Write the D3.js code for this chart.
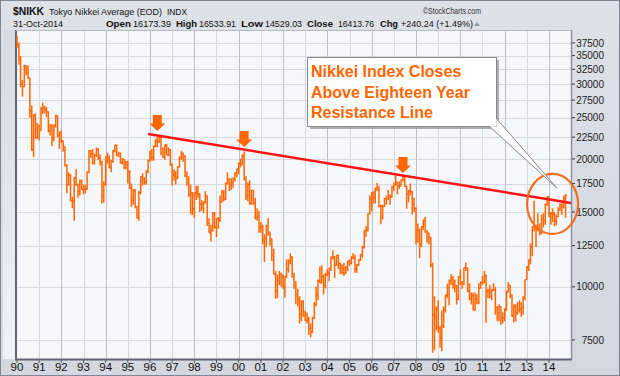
<!DOCTYPE html>
<html>
<head>
<meta charset="utf-8">
<script src="https://cdnjs.cloudflare.com/ajax/libs/d3/7.8.5/d3.min.js"></script>
<style>
  body { margin: 0; background: #d9dde5; }
  svg { display: block; font-family: "Liberation Sans", Arial, sans-serif; }
</style>
</head>
<body>
<div id="chart"></div>
<script>
// Monthly OHLC for $NIKK, Jan 1990 - Oct 2014 (one row per year)
const startYear = 1990;

const opens = [
  38921,37189,34592,29980,29585,33131,31940,31036,25978,20984,25194,22455,
  23849,23293,26409,26292,26111,25790,23291,23900,22335,23916,25222,22687,
  22984,22023,21339,19346,17391,18348,15952,15910,18061,17399,16767,17684,
  16925,17024,16953,18591,20919,20552,19590,20380,21027,20106,19703,16408,
  17417,20229,19997,19112,19725,20974,21552,20449,20629,19564,19990,19076,
  19723,18650,17053,16140,16807,15437,14517,16678,18117,17913,17655,18744,
  19868,20813,20125,21407,22041,21956,22531,20693,20167,21556,20467,21020,
  19361,18330,18557,18003,19151,20068,20605,20331,18229,17888,16459,16636,
  15259,16628,16832,16527,15641,15671,15830,16379,14108,13406,13565,14883,
  13842,14499,14368,15837,16702,16112,17530,17862,17437,17605,17943,18558,
  18934,19540,19960,20337,17974,16332,17411,15727,16861,15747,14540,14649,
  13786,13844,12884,13000,13934,13262,12969,11861,10714,9775,10367,10697,
  10543,9998,10588,11025,11493,11764,10622,10019,9620,9383,8641,9216,
  8579,8340,8363,7973,7831,8425,9083,9563,10344,10219,10560,10101,
  10677,10784,11042,11715,11762,11236,11859,11326,11082,10824,10771,11069,
  11489,11388,11741,11669,11009,11277,11584,11900,12414,13574,13607,14872,
  16111,16650,16205,17060,16906,15468,15505,15457,16141,16128,16399,16274,
  17226,17383,17604,17288,17400,17876,18138,17249,16569,16786,16738,15680,
  15308,13592,13603,12526,13850,14339,13481,13377,13073,11260,8577,8512,
  8860,7994,7568,8110,8828,9523,9958,10357,10493,10133,10035,9346,
  10546,10198,10126,11090,11057,9769,9383,9537,8824,9369,9202,9937,
  10229,10238,10624,9755,9850,9694,9816,9833,8955,8700,8988,8435,
  8455,8803,9723,10084,9521,8543,9007,8695,8840,8870,8928,9446,
  10395,11139,11559,12398,13861,13775,13677,13668,13389,14456,14328,15662,
  16291,14915,14841,14828,14304,14632,15162,15621,15425,16173
];

const highs = [
  38952,37600,34950,30700,33300,33200,33170,31100,26700,25500,25600,24300,
  24100,26500,27146,26700,26500,25900,24200,24100,24100,25400,25300,23200,
  23300,22100,21400,19400,18600,18400,16300,18100,18900,17500,17900,17900,
  17400,17400,18700,21000,21000,21100,20600,21281,21200,20500,19800,17700,
  20300,20700,20400,19900,21000,21573,21600,20800,20700,20100,20000,19800,
  19800,18800,17500,17000,17000,15500,16800,18200,18500,18100,18800,19900,
  20900,21100,21500,22300,22500,22750,22600,21300,21600,21700,21300,21100,
  19500,18900,18700,19200,20300,20910,20700,20400,18700,18200,17400,16700,
  16700,17300,17300,16600,16000,15900,16800,16400,14500,14000,15000,15000,
  14500,14600,16400,16900,16900,17600,18600,18000,18000,18100,18600,18950,
  19600,20000,20500,20833,18200,17600,17800,16900,16900,16200,15300,15100,
  14200,14000,13300,14000,14529,13500,13000,12300,10900,10700,10900,10800,
  10700,10600,11600,11600,11980,11800,10800,10300,9900,9500,9300,9300,
  8800,8700,8500,8200,8500,9200,10000,10400,11160,11238,10700,10800,
  11000,11100,11800,12195,11800,11900,11900,11400,11300,11400,11200,11500,
  11600,11800,12000,11900,11300,11600,11950,12500,13600,13900,14900,16400,
  16700,16800,17100,17563,17300,15600,15600,16200,16400,16900,16500,17300,
  17600,18300,17700,17700,17900,18300,18262,17300,16900,17500,16800,16200,
  15400,14100,13700,13900,14400,14600,13600,13400,13100,11400,9500,9000,
  9300,8100,8800,9000,9600,10170,10400,10700,10600,10400,10100,10600,
  10983,10300,11100,11400,11100,10200,9700,9700,9700,9600,10200,10300,
  10600,10900,10700,9900,10100,9900,10200,10000,9000,9100,9000,8700,
  8900,9800,10255,10100,9600,9100,9100,9200,9300,9200,9500,10400,
  11200,11600,12650,13900,15943,14000,14900,14100,14800,14900,15700,16320,
  16300,15000,15300,15000,14800,15400,15700,15800,16400,16534
];

const lows = [
  36450,33300,29500,28002,29500,31500,30900,25000,20900,20221,22300,22300,
  22100,23300,25500,25600,25100,23100,22700,21456,22000,23700,22500,21100,
  21800,20800,19200,16600,17300,15900,15300,14309,17300,16200,16400,16900,
  16500,16600,16900,18500,20100,19400,19400,20200,19900,19300,15700,15800,
  17300,19500,19000,18600,19600,20700,20300,20200,19500,19400,18900,18900,
  17500,17000,15400,15600,15300,14485,14300,16500,17300,17400,17400,18500,
  19700,19800,19800,21300,21300,21800,20400,20100,19900,20400,20300,19300,
  17303,17800,17400,17900,19100,19900,19700,18100,17300,16300,14800,14775,
  14500,16000,16200,15000,15100,14900,15700,13900,13400,12787,13500,13700,
  13100,13700,14200,15800,15900,16000,17400,16800,16900,17100,17700,18100,
  18400,19100,19300,17800,16000,15900,15600,15600,15600,14400,14300,13400,
  13400,12600,11433,12400,13200,12500,11500,10700,9382,9400,10100,10000,
  9900,9420,10500,10800,11300,10500,9900,9100,9000,8200,8300,8500,
  8300,8200,7700,7603,7800,8400,9000,9300,10200,10200,9600,9900,
  10600,10300,10900,11600,10500,11200,11000,10700,10700,10600,10700,10900,
  11200,11300,11600,10800,10800,11200,11500,11700,12300,13100,13500,14800,
  15059,15700,15700,16800,15400,14045,14400,15400,15600,16000,15600,16200,
  16800,17300,16500,17000,17200,17700,17200,15262,15800,16400,14800,15000,
  12573,12700,11691,12400,13600,13400,12700,12600,11100,6995,7100,7900,
  7800,7200,7055,8000,8700,9400,9050,10100,9900,9700,9081,9300,
  10100,9900,10100,10900,9700,9300,9090,8800,8790,9100,9100,9900,
  10100,10200,8227,9400,9400,9300,9800,8600,8300,8300,8135,8200,
  8300,8800,9700,9400,8500,8238,8300,8600,8700,8500,8600,9300,
  10390,10900,11300,11800,13500,12415,13500,13200,13300,13800,14000,15500,
  14600,13995,14200,13885,13964,14600,15100,14750,15300,14529
];

const closes = [
  37189,34592,29980,29585,33131,31940,31036,25978,20984,25194,22455,23849,
  23293,26409,26292,26111,25790,23291,23900,22335,23916,25222,22687,22984,
  22023,21339,19346,17391,18348,15952,15910,18061,17399,16767,17684,16925,
  17024,16953,18591,20919,20552,19590,20380,21027,20106,19703,16408,17417,
  20229,19997,19112,19725,20974,21552,20449,20629,19564,19990,19076,19723,
  18650,17053,16140,16807,15437,14517,16678,18117,17913,17655,18744,19868,
  20813,20125,21407,22041,21956,22531,20693,20167,21556,20467,21020,19361,
  18330,18557,18003,19151,20068,20605,20331,18229,17888,16459,16636,15259,
  16628,16832,16527,15641,15671,15830,16379,14108,13406,13565,14883,13842,
  14499,14368,15837,16702,16112,17530,17862,17437,17605,17943,18558,18934,
  19540,19960,20337,17974,16332,17411,15727,16861,15747,14540,14649,13786,
  13844,12884,13000,13934,13262,12969,11861,10714,9775,10367,10697,10543,
  9998,10588,11025,11493,11764,10622,10019,9620,9383,8641,9216,8579,
  8340,8363,7973,7831,8425,9083,9563,10344,10219,10560,10101,10677,
  10784,11042,11715,11762,11236,11859,11326,11082,10824,10771,11069,11489,
  11388,11741,11669,11009,11277,11584,11900,12414,13574,13607,14872,16111,
  16650,16205,17060,16906,15468,15505,15457,16141,16128,16399,16274,17226,
  17383,17604,17288,17400,17876,18138,17249,16569,16786,16738,15680,15308,
  13592,13603,12526,13850,14339,13481,13377,13073,11260,8577,8512,8860,
  7994,7568,8110,8828,9523,9958,10357,10493,10133,10035,9346,10546,
  10198,10126,11090,11057,9769,9383,9537,8824,9369,9202,9937,10229,
  10238,10624,9755,9850,9694,9816,9833,8955,8700,8988,8435,8455,
  8803,9723,10084,9521,8543,9007,8695,8840,8870,8928,9446,10395,
  11139,11559,12398,13861,13775,13677,13668,13389,14456,14328,15662,16291,
  14915,14841,14828,14304,14632,15162,15621,15425,16174,16414
];

// Axis ticks
const priceTicks = [7500, 10000, 12500, 15000, 17500, 20000, 22500, 25000, 27500, 30000, 32500, 35000, 37500];
const yearTicks = d3.range(1990, 2015);

// Annotations (in data terms)
const resistanceLine = [
  { date: new Date(1995, 11, 1), value: 22900 },
  { date: new Date(2014, 11, 31), value: 15750 }
];
const peakArrows = [
  { date: new Date(1996, 4, 1), value: 23270 },
  { date: new Date(2000, 3, 1), value: 21340 },
  { date: new Date(2007, 5, 1), value: 18530 }
];
const breakoutCircle = { date: new Date(2014, 2, 1), value: 15670 };
const calloutTip = { date: new Date(2014, 4, 10), value: 17090 };
const calloutLines = ["Nikkei Index Closes", "Above Eighteen Year", "Resistance Line"];

// ---- setup
const W = 620, H = 376;
const plot = { left: 16, right: 571, top: 30, bottom: 359 };
const barColor = "#ff6600";
const accent = "#ff6600";

const bars = closes.map((c, i) => ({
  date: new Date(startYear, i, 1),
  open: opens[i], high: highs[i], low: lows[i], close: c
}));

const x = d3.scaleTime()
  .domain([new Date(1990, 0, 1), new Date(2014, 0, 1)])
  .range([17, 549]);
const y = d3.scaleLog()
  .domain([6800, 40000])
  .range([358, 31]);

const svg = d3.select("#chart").append("svg")
  .attr("width", W).attr("height", H);

const defs = svg.append("defs");
const bgGrad = defs.append("linearGradient").attr("id", "bg").attr("x1", 0).attr("x2", 0).attr("y1", 0).attr("y2", 1);
bgGrad.append("stop").attr("offset", "0%").attr("stop-color", "#dde1e8");
bgGrad.append("stop").attr("offset", "100%").attr("stop-color", "#d2d7e0");
const leftGrad = defs.append("linearGradient").attr("id", "leftStrip").attr("x1", 0).attr("x2", 0).attr("y1", 0).attr("y2", 1);
leftGrad.append("stop").attr("offset", "0%").attr("stop-color", "#d6dbe4");
leftGrad.append("stop").attr("offset", "100%").attr("stop-color", "#eef2f9");
defs.append("clipPath").attr("id", "plotClip")
  .append("rect")
  .attr("x", plot.left).attr("y", plot.top)
  .attr("width", plot.right - plot.left).attr("height", plot.bottom - plot.top);

// background + frame
svg.append("rect").attr("width", W).attr("height", H).attr("fill", "url(#bg)");
svg.append("rect").attr("x", 3).attr("y", plot.top).attr("width", plot.left - 3).attr("height", plot.bottom - plot.top)
  .attr("fill", "url(#leftStrip)");
svg.append("rect").attr("x", 0.5).attr("y", 0.5).attr("width", W - 1).attr("height", H - 1)
  .attr("fill", "none").attr("stroke", "#7f8696").attr("stroke-width", 1);
svg.append("rect")
  .attr("x", plot.left).attr("y", plot.top)
  .attr("width", plot.right - plot.left).attr("height", plot.bottom - plot.top)
  .attr("fill", "#f5f7fb");

// grid
const grid = svg.append("g").attr("clip-path", "url(#plotClip)");
grid.selectAll("line.h").data(priceTicks).join("line")
  .attr("x1", plot.left).attr("x2", plot.right)
  .attr("y1", d => Math.round(y(d)) + 0.5).attr("y2", d => Math.round(y(d)) + 0.5)
  .attr("stroke", "#d5d8df").attr("stroke-width", 1);
grid.selectAll("line.v").data(yearTicks.filter(yr => yr > 1990)).join("line")
  .attr("x1", d => Math.round(x(new Date(d, 0, 1))) + 0.5)
  .attr("x2", d => Math.round(x(new Date(d, 0, 1))) + 0.5)
  .attr("y1", plot.top).attr("y2", plot.bottom)
  .attr("stroke", d => d % 2 === 0 ? "#bcc0c9" : "#d6d9e0").attr("stroke-width", 1);

// axes
svg.append("line").attr("x1", plot.left).attr("x2", plot.left).attr("y1", plot.top).attr("y2", plot.bottom + 1)
  .attr("stroke", "#5f6574").attr("stroke-width", 2);
svg.append("line").attr("x1", plot.left - 1).attr("x2", plot.right + 1).attr("y1", plot.bottom + 0.5).attr("y2", plot.bottom + 0.5)
  .attr("stroke", "#5f6574").attr("stroke-width", 2);
svg.append("line").attr("x1", plot.right + 0.5).attr("x2", plot.right + 0.5).attr("y1", plot.top).attr("y2", plot.bottom)
  .attr("stroke", "#8a909c").attr("stroke-width", 1.5);
svg.append("line").attr("x1", plot.left).attr("x2", plot.right).attr("y1", plot.top + 0.5).attr("y2", plot.top + 0.5)
  .attr("stroke", "#b5bac4").attr("stroke-width", 1);

const yAxis = svg.append("g");
yAxis.selectAll("line").data(priceTicks).join("line")
  .attr("x1", plot.right + 1).attr("x2", plot.right + 4)
  .attr("y1", d => y(d)).attr("y2", d => y(d))
  .attr("stroke", "#333").attr("stroke-width", 1);
yAxis.selectAll("text").data(priceTicks).join("text")
  .attr("x", 604).attr("y", d => y(d)).attr("dy", "0.36em")
  .attr("text-anchor", "end").attr("font-size", 10).attr("fill", "#222")
  .text(d => d);

const xAxis = svg.append("g");
xAxis.selectAll("line").data(yearTicks).join("line")
  .attr("x1", d => x(new Date(d, 0, 1))).attr("x2", d => x(new Date(d, 0, 1)))
  .attr("y1", plot.bottom + 1).attr("y2", plot.bottom + 4)
  .attr("stroke", "#555").attr("stroke-width", 1);
xAxis.selectAll("text").data(yearTicks).join("text")
  .attr("x", d => x(new Date(d, 0, 1))).attr("y", 371)
  .attr("text-anchor", "middle").attr("font-size", 11.5).attr("fill", "#111")
  .text(d => d3.format("02")(d % 100));

// OHLC bars
const barsG = svg.append("g").attr("clip-path", "url(#plotClip)")
  .attr("stroke", barColor).attr("stroke-width", 1.5);
barsG.selectAll("line.hl").data(bars).join("line")
  .attr("x1", d => x(d.date)).attr("x2", d => x(d.date))
  .attr("y1", d => y(d.high)).attr("y2", d => y(d.low));
barsG.selectAll("line.o").data(bars).join("line")
  .attr("x1", d => x(d.date) - 1.4).attr("x2", d => x(d.date))
  .attr("y1", d => y(d.open)).attr("y2", d => y(d.open)).attr("stroke-width", 1.1);
barsG.selectAll("line.c").data(bars).join("line")
  .attr("x1", d => x(d.date)).attr("x2", d => x(d.date) + 1.4)
  .attr("y1", d => y(d.close)).attr("y2", d => y(d.close)).attr("stroke-width", 1.1);

// resistance line
svg.append("path")
  .datum(resistanceLine)
  .attr("d", d3.line().x(d => x(d.date)).y(d => y(d.value)))
  .attr("fill", "none").attr("stroke", "#ff1414").attr("stroke-width", 2.6);

// peak arrows (tip at the data point)
const arrowPath = "M-4.5,-16 L4.5,-16 L4.5,-7.5 L8,-7.5 L0,0 L-8,-7.5 L-4.5,-7.5 Z";
svg.selectAll("path.arrow").data(peakArrows).join("path")
  .attr("class", "arrow")
  .attr("transform", d => `translate(${x(d.date)},${y(d.value)})`)
  .attr("d", arrowPath).attr("fill", accent);

// breakout circle
svg.append("ellipse")
  .attr("cx", x(breakoutCircle.date)).attr("cy", y(breakoutCircle.value))
  .attr("rx", 25.5).attr("ry", 30)
  .attr("fill", "none").attr("stroke", "#f07020").attr("stroke-width", 2.2);

// callout box
const box = { x: 307, y: 57, w: 189, h: 69 };
const tipX = x(calloutTip.date), tipY = y(calloutTip.value);
const tailA = [box.x + box.w - 7, box.y + box.h], tailB = [box.x + box.w, box.y + box.h - 8];
const callout = svg.append("g");
callout.append("rect").attr("x", box.x + 3).attr("y", box.y + 3).attr("width", box.w).attr("height", box.h)
  .attr("fill", "#8f8f8f").attr("opacity", 0.7);
callout.append("polygon")
  .attr("points", [[tailA[0] + 2, tailA[1] + 2], [tailB[0] + 2, tailB[1] + 2], [tipX + 1.5, tipY + 1.5]].join(" "))
  .attr("fill", "#9a9a9a").attr("opacity", 0.7);
callout.append("rect").attr("x", box.x + 0.5).attr("y", box.y + 0.5).attr("width", box.w).attr("height", box.h)
  .attr("fill", "#fff").attr("stroke", "#8a8a8a").attr("stroke-width", 1);
callout.append("polygon")
  .attr("points", [tailA, [box.x + box.w + 0.5, box.y + box.h + 0.5], tailB, [tipX, tipY]].join(" "))
  .attr("fill", "#fff");
callout.append("polyline")
  .attr("points", [tailA, [tipX, tipY], tailB].join(" "))
  .attr("fill", "none").attr("stroke", "#8a8a8a").attr("stroke-width", 1);
callout.selectAll("text").data(calloutLines).join("text")
  .attr("x", box.x + 4).attr("y", (d, i) => box.y + 20 + i * 20.5)
  .attr("font-size", 16).attr("font-weight", "bold").attr("fill", accent)
  .text(d => d);

// header
const header = svg.append("g").attr("fill", "#111");
header.append("text").attr("x", 13).attr("y", 15).attr("font-size", 11.5).attr("font-weight", "bold")
  .attr("textLength", 31).attr("lengthAdjust", "spacingAndGlyphs").text("$NIKK");
header.append("text").attr("x", 49).attr("y", 15).attr("font-size", 9)
  .attr("textLength", 113).attr("lengthAdjust", "spacingAndGlyphs").text("Tokyo Nikkei Average (EOD)");
header.append("text").attr("x", 167).attr("y", 15).attr("font-size", 9)
  .attr("textLength", 20).attr("lengthAdjust", "spacingAndGlyphs").text("INDX");
header.append("text").attr("x", 423).attr("y", 14).attr("font-size", 9).attr("fill", "#333")
  .attr("textLength", 58).attr("lengthAdjust", "spacingAndGlyphs").text("©StockCharts.com");
header.append("text").attr("x", 13).attr("y", 27).attr("font-size", 9)
  .attr("textLength", 50).attr("lengthAdjust", "spacingAndGlyphs").text("31-Oct-2014");

const quote = [
  { t: "Open", x: 106, w: 25, b: true }, { t: "16173.39", x: 133, w: 38 },
  { t: "High", x: 176, w: 21, b: true }, { t: "16533.91", x: 199, w: 37 },
  { t: "Low", x: 241, w: 22, b: true }, { t: "14529.03", x: 265, w: 37 },
  { t: "Close", x: 307, w: 26, b: true }, { t: "16413.76", x: 338, w: 36 },
  { t: "Chg", x: 380, w: 18, b: true }, { t: "+240.24 (+1.49%)", x: 401, w: 72 }
];
header.selectAll("text.q").data(quote).join("text")
  .attr("class", "q")
  .attr("x", d => d.x).attr("y", 27)
  .attr("font-size", 9.2).attr("font-weight", d => d.b ? "bold" : "normal")
  .attr("textLength", d => d.w).attr("lengthAdjust", "spacingAndGlyphs")
  .text(d => d.t);
header.append("path").attr("d", "M474,26 L477,22 L480,26 Z").attr("fill", "#999");
</script>
</body>
</html>
